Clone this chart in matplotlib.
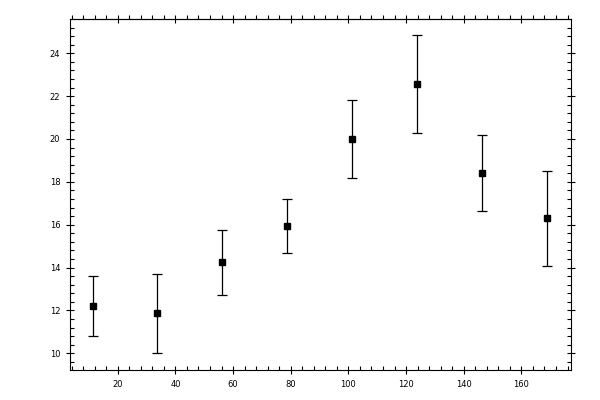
import matplotlib
matplotlib.use('Agg')
import matplotlib.pyplot as plt
from matplotlib.ticker import MultipleLocator

# Data
x_vals = [11.25, 33.75, 56.25, 78.75, 101.25, 123.75, 146.25, 168.75]
y_vals = [12.2, 11.87, 14.24, 15.94, 20.0, 22.56, 18.4, 16.3]
y_err = [1.39, 1.84, 1.51, 1.27, 1.8, 2.29, 1.78, 2.21]

fig = plt.figure(figsize=(6, 4), dpi=100)
ax = fig.add_axes([0.1167, 0.075, 0.8345, 0.877])

ax.errorbar(x_vals, y_vals, yerr=y_err, fmt='s', color='black', ms=5,
            elinewidth=0.9, capsize=3.5, capthick=0.9)

ax.set_xlim(3.45, 177.1)
ax.set_ylim(9.22, 25.59)

for s in ax.spines.values():
    s.set_linewidth(0.8)

ax.xaxis.set_major_locator(MultipleLocator(20))
ax.xaxis.set_minor_locator(MultipleLocator(4))
ax.yaxis.set_major_locator(MultipleLocator(2))
ax.yaxis.set_minor_locator(MultipleLocator(0.4))

ax.tick_params(which='major', direction='inout', length=6, width=0.8,
               labelsize=6, left=True, right=True, bottom=True, top=False, pad=4)
ax.tick_params(which='minor', direction='in', length=3, width=0.8,
               left=True, right=True, bottom=True, top=False)

# top axis: majors cross, minors point outward
top = ax.secondary_xaxis('top')
top.xaxis.set_major_locator(MultipleLocator(20))
top.xaxis.set_minor_locator(MultipleLocator(4))
top.tick_params(which='major', direction='inout', length=6, width=0.8, labeltop=False)
top.tick_params(which='minor', direction='out', length=3, width=0.8)
top.spines['top'].set_linewidth(0.8)

plt.savefig('out.png', dpi=100)
